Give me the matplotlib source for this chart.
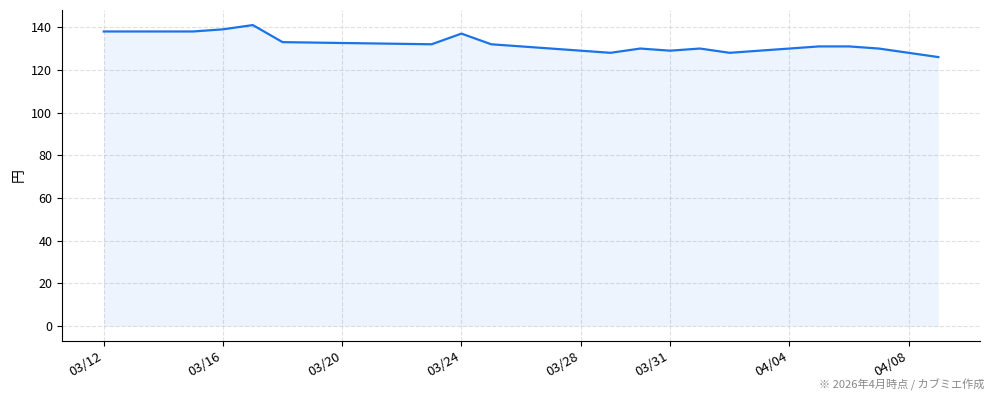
import matplotlib
matplotlib.use("Agg")
import matplotlib.pyplot as plt
import matplotlib.dates as mdates
import pandas as pd

plt.rcParams['font.family'] = ['Noto Sans CJK JP', 'DejaVu Sans']

dates = ["2026-03-12", "2026-03-15", "2026-03-16", "2026-03-17", "2026-03-18",
         "2026-03-23", "2026-03-24", "2026-03-25", "2026-03-29", "2026-03-30",
         "2026-03-31", "2026-04-01", "2026-04-02", "2026-04-05", "2026-04-06",
         "2026-04-07", "2026-04-09"]
prices = [138, 138, 139, 141, 133, 132, 137, 132, 128, 130, 129, 130, 128, 131, 131, 130, 126]
tick_dates = ["2026-03-12", "2026-03-16", "2026-03-20", "2026-03-24", "2026-03-28",
              "2026-03-31", "2026-04-04", "2026-04-08"]
ylabel = "円"
note = "※ 2026年4月時点 / カブミエ作成"

x = pd.to_datetime(dates)
ticks = pd.to_datetime(tick_dates)

fig = plt.figure(figsize=(9.94, 4.01), dpi=100)
ax = fig.add_axes([0.0624, 0.1496, 0.9236, 0.8254])
color = "#1a73e8"
ax.fill_between(x, prices, 0, color=color, alpha=0.08, linewidth=0)
ax.plot(x, prices, color=color, linewidth=1.6)

ax.set_xticks(ticks)
ax.xaxis.set_major_formatter(mdates.DateFormatter("%m/%d"))
for lbl in ax.get_xticklabels():
    lbl.set_rotation(30)
    lbl.set_ha("right")
ax.set_yticks(range(0, 141, 20))
ax.tick_params(axis="x", labelsize=9.5)
ax.tick_params(axis="y", labelsize=9)
ax.set_ylabel(ylabel, fontsize=10)
ax.grid(True, linestyle="--", color="#cccccc", alpha=0.6, linewidth=0.8)
ax.spines["top"].set_visible(False)
ax.spines["right"].set_visible(False)
ax.set_axisbelow(True)

fig.text(0.99, 0.04, note, ha="right", va="center", fontsize=8, color="#888888")
fig.savefig("out.png", dpi=100)
